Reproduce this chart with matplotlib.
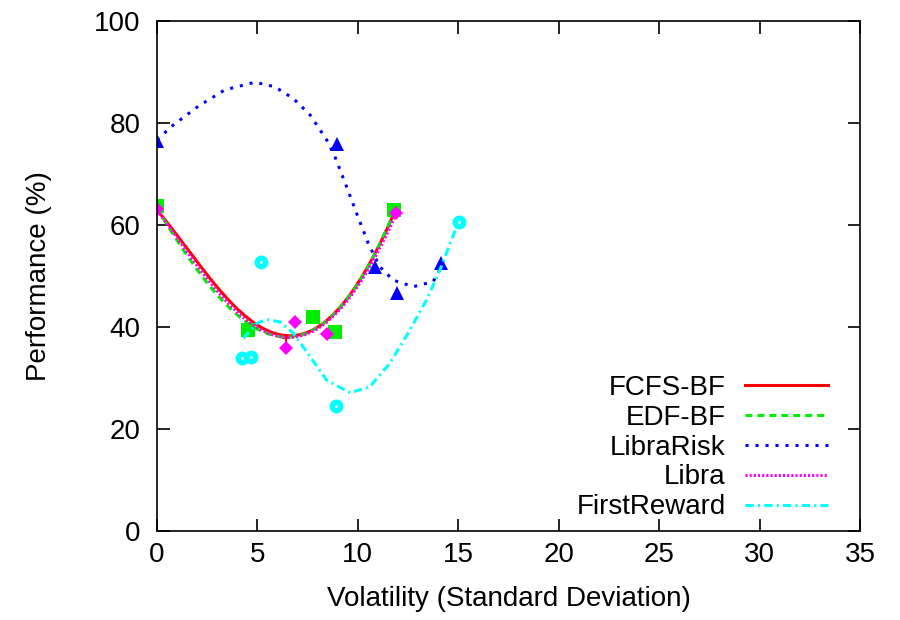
import numpy as np
import matplotlib
matplotlib.use("Agg")
import matplotlib.pyplot as plt

plt.rcParams['font.family'] = ['Liberation Sans', 'DejaVu Sans']
plt.rcParams['lines.scale_dashes'] = False

labels = ["FCFS-BF", "EDF-BF", "LibraRisk", "Libra", "FirstReward"]

# measured points (volatility, performance %)
fcfs_x = [0.0, 4.55, 6.42, 7.6, 11.81]
fcfs_y = [63.6, 39.6, 37.8, 41.9, 63.0]
edf_x = [0.0, 4.55, 7.75, 8.86, 11.81]
edf_y = [63.8, 39.4, 41.9, 39.1, 62.9]
risk_x = [0.0, 8.98, 10.85, 11.93, 14.12]
risk_y = [76.5, 75.9, 51.8, 46.6, 52.5]
libra_x = [0.0, 6.42, 6.87, 8.45, 11.88]
libra_y = [63.1, 35.9, 40.9, 38.6, 62.4]
first_x = [4.21, 4.68, 5.18, 8.89, 15.05]
first_y = [33.9, 34.2, 52.8, 24.6, 60.6]

# trend curves
fcfs_cx = [0, 1.31, 2.64, 3.8, 4.96, 6.46, 7.95, 9.27, 10.27, 11.1, 11.81]
fcfs_cy = [62.9, 56.4, 49.9, 44.0, 40.1, 38.8, 40.1, 44.0, 50.5, 56.4, 62.3]
edf_cx = [0, 1.31, 2.64, 3.8, 4.96, 6.3, 7.95, 9.27, 10.27, 11.1, 11.81]
edf_cy = [63.3, 55.1, 48.3, 42.7, 39.5, 38.5, 39.8, 44.0, 50.5, 56.4, 62.6]
risk_cx = [0, 0.81, 2.06, 3.38, 4.88, 5.87, 6.79, 7.62, 8.45, 8.86, 9.44,
           9.94, 10.52, 11.1, 11.76, 12.76, 13.75, 14.17]
risk_cy = [76.7, 79.6, 83.3, 86.5, 88.0, 87.1, 84.8, 81.6, 76.7, 73.4, 67.5,
           62.3, 56.4, 51.8, 49.2, 47.9, 48.9, 51.8]
libra_cx = [0, 1.31, 2.64, 3.8, 4.96, 6.46, 7.95, 9.27, 10.27, 11.1, 11.88]
libra_cy = [62.9, 55.7, 49.1, 43.3, 39.8, 38.5, 39.5, 43.7, 49.9, 55.7, 61.8]
first_cx = [4.3, 4.96, 5.46, 6.12, 6.79, 7.62, 8.45, 9.61, 10.6, 11.6,
            12.59, 13.42, 14.09, 14.92]
first_cy = [37.8, 40.7, 41.5, 41.0, 38.8, 34.2, 29.6, 27.1, 28.3, 32.9,
            39.4, 45.3, 51.2, 59.7]

# (points x, points y, curve x, curve y, fit degree or None, colour, style, marker, size)
series = [
    (fcfs_x, fcfs_y, fcfs_cx, fcfs_cy, 4, '#ff0000', '-', '+', 6),
    (edf_x, edf_y, edf_cx, edf_cy, 4, '#00ee00', (0, (5, 3.6)), 's', 9.5),
    (risk_x, risk_y, risk_cx, risk_cy, None, '#0000ff', (0, (2.2, 5)), '^', 10.5),
    (libra_x, libra_y, libra_cx, libra_cy, 4, '#ff00ff', (0, (1.5, 1.5)), 'D', 7.5),
    (first_x, first_y, first_cx, first_cy, None, '#00ffff', (0, (6, 3, 1.5, 3)), 'o', 10),
]

fig = plt.figure(figsize=(9, 6.2), dpi=100)
ax = fig.add_axes([0.1744, 0.1435, 0.7811, 0.8226])

for (xs, ys, cx, cy, deg, col, ls, mk, ms), lab in zip(series, labels):
    if deg:
        # smooth the traced U-shaped curves with a polynomial fit
        coef = np.polyfit(cx, cy, deg)
        xx = np.linspace(min(cx), max(cx), 200)
        ax.plot(xx, np.polyval(coef, xx), color=col, linestyle=ls, lw=2.2, label=lab)
    else:
        ax.plot(cx, cy, color=col, linestyle=ls, lw=2.2, label=lab)
    ax.plot(xs, ys, linestyle='none', marker=mk, color=col, markersize=ms,
            markeredgewidth=1.5 if mk == '+' else 0)
    if mk == 'o':
        ax.plot(xs, ys, linestyle='none', marker='o', color='white',
                markersize=2, markeredgewidth=0)

ax.set_xlim(0, 35)
ax.set_ylim(0, 100)
ax.set_xticks(range(0, 36, 5))
ax.set_yticks(range(0, 101, 20))
ax.tick_params(direction='in', length=9, width=1.2, top=True, right=True,
               labelsize=20, pad=12)
ax.tick_params(axis='x', pad=8)
for sp in ax.spines.values():
    sp.set_linewidth(1.2)
ax.set_xlabel("Volatility (Standard Deviation)", fontsize=20, labelpad=13)
ax.set_ylabel("Performance (%)", fontsize=20, labelpad=30)

ax.legend(loc='lower right', bbox_to_anchor=(0.955, 0.021), frameon=False,
          fontsize=20, markerfirst=False, handlelength=3.0, handletextpad=0.7,
          labelspacing=0.14, borderpad=0, borderaxespad=0)

fig.savefig("out.png", dpi=100)
